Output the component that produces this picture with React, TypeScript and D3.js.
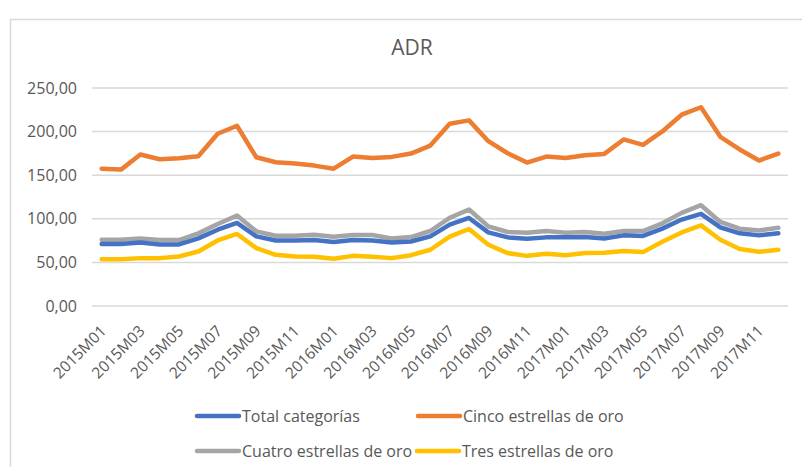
import React from "react";
import * as d3 from "d3";

const months: string[] = [];
for (const y of [2015, 2016, 2017]) for (let m = 1; m <= 12; m++) months.push(`${y}M${String(m).padStart(2, "0")}`);

const totalCategorias = [71, 71, 72.9, 70.6, 70.6, 77.5, 87.5, 95.3, 79.8, 75.2, 75.2, 75.6, 73.3, 75.6, 75.2, 72.9, 74, 79.8, 93.3, 101, 84.4, 78.7, 77.2, 78.7, 78.7, 79.1, 77.5, 81, 80.3, 88.7, 99.1, 105.7, 90.2, 83.3, 81, 83.3];
const cincoEstrellas = [157.5, 156.4, 173.7, 168.3, 169.4, 171.7, 197.5, 206.7, 170.6, 164.8, 163.3, 161, 157.5, 171.4, 169.8, 171, 174.8, 184, 209, 212.9, 189, 175.2, 164.5, 171.4, 169.8, 172.9, 174.4, 191, 184.8, 200.2, 219.4, 227.9, 194, 179.5, 166.8, 174.8];
const cuatroEstrellas = [76, 76, 77.5, 75.6, 75.6, 83.3, 94.1, 103.7, 85.6, 80.6, 80.6, 81.8, 79.5, 81.4, 81.4, 77.5, 79.1, 86, 101, 110.6, 91.3, 84.9, 84.1, 86, 84.1, 84.9, 82.9, 86, 86, 94.8, 106.8, 115.6, 96.4, 88.7, 86.7, 89.8];
const tresEstrellas = [53.7, 53.7, 54.9, 54.9, 56.8, 62.5, 75.2, 82.6, 66.4, 58.7, 56.8, 56.4, 54.1, 57.5, 56.4, 54.9, 58.3, 64.5, 79.5, 88.3, 70.2, 60.7, 57.5, 59.9, 58.3, 60.7, 61, 63, 61.8, 73.7, 84.4, 92.5, 76, 65.3, 62.2, 64.5];

const yTicks = [0, 50, 100, 150, 200, 250];
const seriesNames = ["Total categorías", "Cinco estrellas de oro", "Cuatro estrellas de oro", "Tres estrellas de oro"];
const seriesColors = ["#4472C4", "#ED7D31", "#A5A5A5", "#FFC000"];

const FONT = "'Open Sans', 'Liberation Sans', sans-serif";
const TXT = "#595959";

export default function App() {
  const left = 92, right = 788, top = 88, bottom = 306;
  const x = d3.scaleBand<string>().domain(months).range([left, right]);
  const y = d3.scaleLinear().domain([0, 250]).range([bottom, top]);
  const cx = (m: string) => (x(m) as number) + x.bandwidth() / 2;
  const line = d3.line<number>().x((_, i) => cx(months[i])).y((d) => y(d));
  const drawOrder = [2, 0, 3, 1];
  const all = [totalCategorias, cincoEstrellas, cuatroEstrellas, tresEstrellas];
  const fmt = (v: number) => v.toFixed(2).replace(".", ",");
  const legendPos = [
    [197, 416], [418, 416], [197, 451], [417, 451],
  ];
  return (
    <svg width={802} height={467} style={{ position: "absolute", left: 0, top: 0, background: "#fff" }}>
      <rect x={0} y={0} width={802} height={467} fill="#fff" />
      <path d="M10.5,467 V19.5 H802" fill="none" stroke="#D9D9D9" strokeWidth={1.5} />
      <text x={412} y={55} textAnchor="middle" fontFamily={FONT} fontSize={21} fill={TXT}>ADR</text>
      {yTicks.map((t) => (
        <g key={t}>
          <line x1={left} x2={right} y1={y(t)} y2={y(t)} stroke="#D9D9D9" strokeWidth={1.5} />
          <text x={77} y={y(t)} dy="0.35em" textAnchor="end" fontFamily={FONT} fontSize={16} fill={TXT}>{fmt(t)}</text>
        </g>
      ))}
      {months.filter((_, i) => i % 2 === 0).map((m) => (
        <text key={m} transform={`translate(${cx(m) + 5.5},${332}) rotate(-45)`} textAnchor="end" fontFamily={FONT} fontSize={15.5} fill={TXT}>{m}</text>
      ))}
      {drawOrder.map((k) => (
        <path key={k} d={line(all[k]) || ""} fill="none" stroke={seriesColors[k]} strokeWidth={4.5} strokeLinejoin="round" strokeLinecap="round" />
      ))}
      {seriesNames.map((n, k) => (
        <g key={n}>
          <line x1={legendPos[k][0]} x2={legendPos[k][0] + 42} y1={legendPos[k][1]} y2={legendPos[k][1]} stroke={seriesColors[k]} strokeWidth={4.5} strokeLinecap="round" />
          <text x={legendPos[k][0] + 45} y={legendPos[k][1]} dy="0.35em" fontFamily={FONT} fontSize={16} fill={TXT}>{n}</text>
        </g>
      ))}
    </svg>
  );
}
